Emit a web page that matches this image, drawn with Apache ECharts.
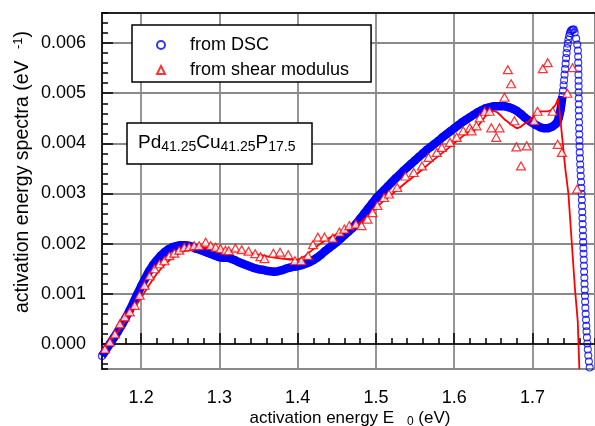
<!DOCTYPE html>
<html>
<head>
<meta charset="utf-8">
<script src="https://cdn.jsdelivr.net/npm/echarts@6/dist/echarts.min.js"></script>
<style>
  html, body { margin: 0; padding: 0; background: #fff; }
  #chart { width: 595px; height: 426px; }
</style>
</head>
<body>
<div id="chart"></div>
<script>
const FONT = '"Liberation Sans", Arial, Helvetica, sans-serif';

// Activation energy spectrum derived from DSC (eV, 1/eV)
const dscEnergy = [
  1.150, 1.155, 1.160, 1.165, 1.170, 1.175, 1.180, 1.185, 1.190, 1.195,
  1.200, 1.205, 1.210, 1.215, 1.220, 1.225, 1.230, 1.235, 1.240, 1.245,
  1.250, 1.255, 1.260, 1.265, 1.270, 1.275, 1.280, 1.285, 1.290, 1.295,
  1.300, 1.305, 1.310, 1.315, 1.320, 1.325, 1.330, 1.335, 1.340, 1.345,
  1.350, 1.355, 1.360, 1.365, 1.370, 1.375, 1.380, 1.385, 1.390, 1.395,
  1.400, 1.405, 1.410, 1.415, 1.420, 1.425, 1.430, 1.435, 1.440, 1.445,
  1.450, 1.455, 1.460, 1.465, 1.470, 1.475, 1.480, 1.485, 1.490, 1.495,
  1.500, 1.505, 1.510, 1.515, 1.520, 1.525, 1.530, 1.535, 1.540, 1.545,
  1.550, 1.555, 1.560, 1.565, 1.570, 1.575, 1.580, 1.585, 1.590, 1.595,
  1.600, 1.605, 1.610, 1.615, 1.620, 1.625, 1.630, 1.635, 1.640, 1.645,
  1.650, 1.655, 1.660, 1.665, 1.670, 1.675, 1.680, 1.685, 1.690, 1.695,
  1.700, 1.705, 1.710, 1.715, 1.720, 1.725, 1.730,
  1.7310, 1.7323, 1.7335, 1.7344, 1.7353, 1.7361, 1.7368, 1.7376, 1.7384, 1.7391,
  1.7399, 1.7405, 1.7411, 1.7418, 1.7424, 1.7430, 1.7437, 1.7444, 1.7452, 1.7461,
  1.7470, 1.7480, 1.7491, 1.7504, 1.7517, 1.7529,
  1.7540, 1.7559, 1.7573, 1.7581, 1.7585, 1.7586, 1.7588, 1.7589, 1.7590, 1.7591,
  1.7591, 1.7592, 1.7593, 1.7594, 1.7595, 1.7596, 1.7597, 1.7599, 1.7601, 1.7603,
  1.7605, 1.7608, 1.7611, 1.7615, 1.7618, 1.7622, 1.7626, 1.7629, 1.7632, 1.7634,
  1.7637, 1.7640, 1.7642, 1.7645, 1.7647, 1.7649, 1.7652, 1.7654, 1.7657, 1.7659,
  1.7661, 1.7664, 1.7666, 1.7669, 1.7672, 1.7674, 1.7677, 1.7681, 1.7685, 1.7689,
  1.7692, 1.7697, 1.7702, 1.7708, 1.7714, 1.7722, 1.7732
];
const dscSpectrum = [
  -0.00024, -0.00012, 0.00000, 0.00012, 0.00024, 0.00037, 0.00051, 0.00066, 0.00082, 0.00099,
  0.00115, 0.00130, 0.00145, 0.00157, 0.00167, 0.00176, 0.00183, 0.00189, 0.00193, 0.00195,
  0.00197, 0.00197, 0.00196, 0.00194, 0.00190, 0.00188, 0.00185, 0.00182, 0.00179, 0.00176,
  0.00173, 0.00172, 0.00172, 0.00170, 0.00167, 0.00163, 0.00160, 0.00157, 0.00154, 0.00151,
  0.00149, 0.00148, 0.00146, 0.00145, 0.00144, 0.00145, 0.00147, 0.00150, 0.00152, 0.00154,
  0.00155, 0.00157, 0.00160, 0.00163, 0.00167, 0.00172, 0.00178, 0.00185, 0.00191, 0.00197,
  0.00203, 0.00210, 0.00217, 0.00224, 0.00231, 0.00240, 0.00250, 0.00260, 0.00270, 0.00280,
  0.00290, 0.00298, 0.00306, 0.00314, 0.00322, 0.00330, 0.00337, 0.00345, 0.00352, 0.00359,
  0.00366, 0.00373, 0.00380, 0.00387, 0.00393, 0.00399, 0.00405, 0.00412, 0.00418, 0.00424,
  0.00430, 0.00436, 0.00442, 0.00447, 0.00452, 0.00457, 0.00462, 0.00466, 0.00470, 0.00472,
  0.00474, 0.00474, 0.00474, 0.00474, 0.00472, 0.00469, 0.00465, 0.00459, 0.00452, 0.00446,
  0.00441, 0.00436, 0.00432, 0.00430, 0.00430, 0.00433, 0.00439,
  0.00440, 0.00444, 0.00450, 0.00456, 0.00462, 0.00468, 0.00476, 0.00485, 0.00494, 0.00505,
  0.00516, 0.00526, 0.00537, 0.00548, 0.00559, 0.00570, 0.00580, 0.00590, 0.00599, 0.00607,
  0.00614, 0.00620, 0.00624, 0.00626, 0.00627, 0.00627,
  0.00621, 0.00609, 0.00597, 0.00585, 0.00573, 0.00561, 0.00549, 0.00537, 0.00525, 0.00514,
  0.00502, 0.00490, 0.00478, 0.00466, 0.00454, 0.00442, 0.00430, 0.00418, 0.00406, 0.00394,
  0.00382, 0.00370, 0.00358, 0.00347, 0.00335, 0.00323, 0.00311, 0.00299, 0.00287, 0.00275,
  0.00263, 0.00251, 0.00239, 0.00227, 0.00215, 0.00203, 0.00191, 0.00180, 0.00168, 0.00156,
  0.00144, 0.00132, 0.00120, 0.00108, 0.00096, 0.00084, 0.00072, 0.00060, 0.00048, 0.00036,
  0.00025, 0.00013, 0.00001, -0.00011, -0.00023, -0.00035, -0.00047
];
// Upper energy of the densely overlapping part of the DSC curve
const dscBandEnd = 1.7385;

// Activation energy spectrum derived from shear modulus (points)
const shearEnergy = [
  1.1538, 1.1601, 1.1665, 1.1728, 1.1791, 1.1854, 1.1918, 1.1981, 1.2044, 1.2108,
  1.2171, 1.2234, 1.2297, 1.2361, 1.2424, 1.2487, 1.2551, 1.2614, 1.2677, 1.2741,
  1.2825, 1.2889, 1.2952, 1.3015, 1.3078, 1.3120, 1.3205, 1.3285, 1.3373, 1.3458,
  1.3525, 1.3576, 1.3690, 1.3775, 1.3880, 1.3965, 1.4048, 1.4133, 1.4196, 1.4259,
  1.4344, 1.4449, 1.4534, 1.4597, 1.4661, 1.4744, 1.4816, 1.4892, 1.4956, 1.5019,
  1.5104, 1.5167, 1.5272, 1.5377, 1.5484, 1.5589, 1.5673, 1.5778, 1.5842, 1.5947,
  1.6032, 1.6116, 1.6200, 1.6222, 1.6285, 1.6327, 1.6390, 1.6453, 1.6475, 1.6538,
  1.6580, 1.6643, 1.6686, 1.6728, 1.6770, 1.6795, 1.6854, 1.6927, 1.7023, 1.7066,
  1.7133, 1.7196, 1.7259, 1.7323, 1.7377, 1.7446, 1.7513, 1.7572
];
const shearSpectrum = [
  -0.00010, 0.00004, 0.00020, 0.00040, 0.00054, 0.00064, 0.00077, 0.00097, 0.00117, 0.00136,
  0.00150, 0.00160, 0.00166, 0.00176, 0.00181, 0.00187, 0.00193, 0.00194, 0.00196, 0.00196,
  0.00203, 0.00196, 0.00193, 0.00190, 0.00187, 0.00186, 0.00191, 0.00188, 0.00185, 0.00180,
  0.00174, 0.00170, 0.00181, 0.00183, 0.00178, 0.00166, 0.00166, 0.00176, 0.00198, 0.00213,
  0.00213, 0.00211, 0.00223, 0.00229, 0.00236, 0.00239, 0.00236, 0.00249, 0.00262, 0.00276,
  0.00292, 0.00299, 0.00312, 0.00335, 0.00342, 0.00355, 0.00372, 0.00382, 0.00392, 0.00402,
  0.00412, 0.00425, 0.00431, 0.00425, 0.00435, 0.00451, 0.00464, 0.00464, 0.00431, 0.00412,
  0.00431, 0.00492, 0.00547, 0.00519, 0.00445, 0.00393, 0.00355, 0.00395, 0.00445, 0.00464,
  0.00549, 0.00561, 0.00464, 0.00398, 0.00382, 0.00500, 0.00551, 0.00309
];

// Smoothed shear modulus spectrum
const shearFitEnergy = [
  1.150, 1.160, 1.170, 1.180, 1.190, 1.200, 1.210, 1.220, 1.230, 1.240,
  1.250, 1.260, 1.270, 1.280, 1.290, 1.300, 1.310, 1.320, 1.330, 1.340,
  1.350, 1.360, 1.370, 1.380, 1.390, 1.400, 1.410, 1.420, 1.430, 1.440,
  1.450, 1.460, 1.470, 1.480, 1.490, 1.500, 1.510, 1.520, 1.530, 1.540,
  1.550, 1.560, 1.570, 1.580, 1.590, 1.600, 1.610, 1.620, 1.625, 1.630,
  1.635, 1.640, 1.645, 1.650, 1.655, 1.660, 1.665, 1.670, 1.675, 1.680,
  1.685, 1.690, 1.695, 1.700, 1.705, 1.710, 1.715, 1.720, 1.725, 1.730,
  1.733, 1.7375, 1.742, 1.746, 1.750, 1.7544, 1.758, 1.760
];
const shearFitSpectrum = [
  -0.00012, 0.00005, 0.00024, 0.00046, 0.00068, 0.00092, 0.00117, 0.00140, 0.00158, 0.00172,
  0.00182, 0.00188, 0.00191, 0.00192, 0.00191, 0.00189, 0.00187, 0.00185, 0.00183, 0.00181,
  0.00178, 0.00175, 0.00172, 0.00170, 0.00168, 0.00168, 0.00176, 0.00189, 0.00201, 0.00211,
  0.00219, 0.00226, 0.00233, 0.00242, 0.00256, 0.00271, 0.00286, 0.00298, 0.00311, 0.00324,
  0.00336, 0.00349, 0.00362, 0.00375, 0.00387, 0.00400, 0.00413, 0.00425, 0.00425, 0.00433,
  0.00444, 0.00454, 0.00461, 0.00465, 0.00462, 0.00455, 0.00447, 0.00441, 0.00435, 0.00430,
  0.00433, 0.00439, 0.00444, 0.00452, 0.00460, 0.00464, 0.00464, 0.00464, 0.00467, 0.00478,
  0.00490, 0.00421, 0.00350, 0.00300, 0.00209, 0.00110, 0.00044, -0.00050
];

const pairs = (xs, ys) => xs.map((x, i) => [x, ys[i]]);
const dscData = pairs(dscEnergy, dscSpectrum);
const dscBandData = dscData.filter(p => p[0] <= dscBandEnd);
const shearData = pairs(shearEnergy, shearSpectrum);
const shearFitData = pairs(shearFitEnergy, shearFitSpectrum);

const BLUE = '#0000ff';
const RED = '#ff0000';
const GRID_GRAY = '#8a8a8a';

const xRange = { min: 1.15, max: 1.78 };
const yRange = { min: -0.0005, max: 0.0066 };

const chart = echarts.init(document.getElementById('chart'), null, { renderer: 'canvas' });

chart.setOption({
  animation: false,
  backgroundColor: '#ffffff',
  textStyle: { fontFamily: FONT },
  grid: {
    left: 102, top: 13, right: -5, bottom: 57,
    show: true, borderColor: '#000', borderWidth: 1.5, backgroundColor: 'transparent'
  },
  legend: {
    data: [
      { name: 'from DSC', icon: 'circle' },
      { name: 'from shear modulus', icon: 'triangle' }
    ],
    orient: 'vertical',
    left: 132, top: 25,
    padding: [10, 22, 2, 24],
    itemGap: 5,
    itemWidth: 8, itemHeight: 8,
    backgroundColor: '#fff',
    borderColor: '#000', borderWidth: 1.5,
    selectedMode: false,
    textStyle: {
      fontFamily: FONT, fontSize: 18, color: '#000', lineHeight: 20,
      padding: [0, 0, 0, 20]
    }
  },
  xAxis: [
    {
      type: 'value', min: xRange.min, max: xRange.max,
      minInterval: 0.1, maxInterval: 0.1,
      position: 'bottom',
      axisLine: { show: true, lineStyle: { color: '#000', width: 1.5 } },
      axisTick: { show: true, inside: true, length: 11, lineStyle: { color: '#000', width: 1.5 } },
      axisLabel: {
        show: true, margin: 20, color: '#000', fontFamily: FONT, fontSize: 18,
        showMinLabel: false, showMaxLabel: false,
        formatter: v => v.toFixed(1)
      },
      splitLine: { show: true, lineStyle: { color: GRID_GRAY, width: 1.8 } },
      minorTick: { show: false }
    },
    {
      type: 'value', min: xRange.min, max: xRange.max,
      minInterval: 0.02, maxInterval: 0.02,
      position: 'bottom',
      axisLine: { show: false },
      axisTick: { show: true, inside: true, length: 6, lineStyle: { color: '#000', width: 1.5 } },
      axisLabel: { show: false },
      splitLine: { show: false }
    },
    {
      type: 'value', min: xRange.min, max: xRange.max,
      position: 'top',
      axisLine: { show: true, lineStyle: { color: '#000', width: 1.5 } },
      axisTick: { show: false },
      axisLabel: { show: false },
      splitLine: { show: false }
    }
  ],
  yAxis: [
    {
      type: 'value', min: yRange.min, max: yRange.max,
      minInterval: 0.001, maxInterval: 0.001,
      position: 'left',
      axisLine: { show: true, lineStyle: { color: '#000', width: 1.5 } },
      axisTick: { show: true, inside: true, length: 11, lineStyle: { color: '#000', width: 1.5 } },
      axisLabel: {
        show: true, margin: 16, color: '#000', fontFamily: FONT, fontSize: 18,
        showMinLabel: false, showMaxLabel: false,
        formatter: v => v.toFixed(3)
      },
      splitLine: { show: true, lineStyle: { color: GRID_GRAY, width: 1.8 } }
    },
    {
      type: 'value', min: yRange.min, max: yRange.max,
      minInterval: 0.0002, maxInterval: 0.0002,
      position: 'left',
      axisLine: { show: false },
      axisTick: { show: true, inside: true, length: 6, lineStyle: { color: '#000', width: 1.5 } },
      axisLabel: { show: false },
      splitLine: { show: false }
    }
  ],
  series: [
    {
      name: 'dscBand', type: 'line', data: dscBandData,
      showSymbol: false, symbol: 'none', silent: true,
      lineStyle: { color: BLUE, width: 8.5 },
      z: 2
    },
    {
      name: 'from DSC', type: 'scatter', data: dscData,
      symbol: 'circle', symbolSize: 7,
      itemStyle: { color: 'rgba(255,255,255,0)', borderColor: BLUE, borderWidth: 1.1 },
      z: 3
    },
    {
      name: 'shearFit', type: 'line', data: shearFitData,
      showSymbol: false, symbol: 'none', silent: true,
      lineStyle: { color: RED, width: 1.8 },
      z: 4
    },
    {
      name: 'from shear modulus', type: 'scatter', data: shearData,
      symbol: 'triangle', symbolSize: [9, 8],
      itemStyle: { color: '#ffffff', borderColor: RED, borderWidth: 1.2 },
      z: 5
    }
  ],
  graphic: [
    {
      type: 'rect', z: 100,
      shape: { x: 127, y: 123, width: 185, height: 41 },
      style: { fill: '#fff', stroke: '#000', lineWidth: 1.5 }
    },
    {
      type: 'text', z: 101, x: 138, y: 143,
      style: {
        text: 'Pd{s|41.25}Cu{s|41.25}P{s|17.5}',
        fontFamily: FONT, fontSize: 19, fill: '#000',
        lineHeight: 22, verticalAlign: 'middle', align: 'left',
        rich: {
          s: { fontFamily: FONT, fontSize: 14, fill: '#000', lineHeight: 9, verticalAlign: 'bottom' }
        }
      }
    },
    {
      type: 'text', x: 350, y: 418, z: 101,
      style: {
        text: 'activation energy E {s|0} (eV)',
        fontFamily: FONT, fontSize: 17, fill: '#000',
        lineHeight: 20, align: 'center', verticalAlign: 'middle',
        rich: {
          s: { fontFamily: FONT, fontSize: 12, fill: '#000', lineHeight: 4, verticalAlign: 'bottom', padding: [0, 0, 0, 8] }
        }
      }
    },
    {
      type: 'text', x: 23, y: 172, rotation: Math.PI / 2, z: 101,
      style: {
        text: 'activation energy spectra (eV {p|-1})',
        fontFamily: FONT, fontSize: 19.5, fill: '#000',
        lineHeight: 22, align: 'center', verticalAlign: 'middle',
        rich: {
          p: { fontFamily: FONT, fontSize: 13, fill: '#000', lineHeight: 8, verticalAlign: 'top', padding: [0, 0, 0, 6] }
        }
      }
    }
  ]
});
</script>
</body>
</html>
